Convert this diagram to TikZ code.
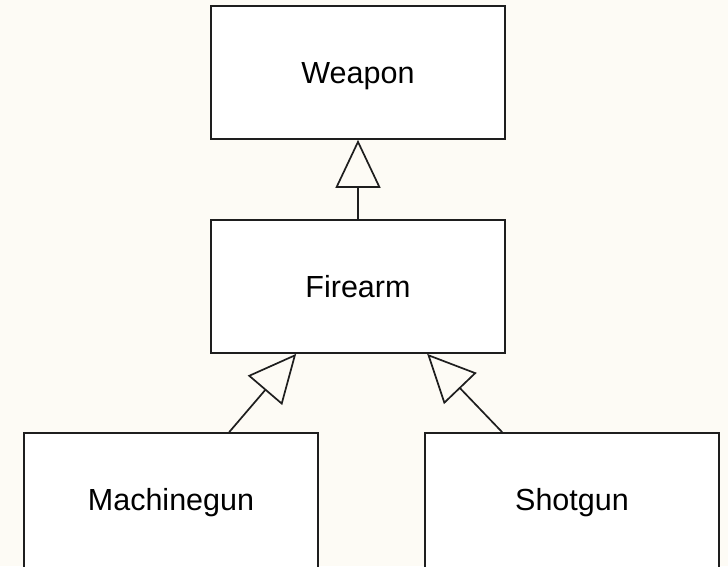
\documentclass[tikz,border=0pt]{standalone}
\usepackage{fontspec}
\setmainfont{Liberation Sans}
\usetikzlibrary{arrows.meta}
\definecolor{paper}{RGB}{253,251,245}
\definecolor{ink}{RGB}{30,30,30}
\tikzset{
  classbox/.style={draw=ink, line width=1.7pt, fill=white,
    minimum width=294pt, minimum height=133pt, inner sep=0pt,
    text height=22pt, text depth=0pt, font=\fontsize{30.5pt}{36pt}\selectfont},
  tallbox/.style={classbox, minimum height=140pt, text depth=7pt},
  inherits/.style={draw=ink, line width=1.7pt,
    -{Triangle[open, length=48pt, width=45pt, line width=1.7pt]}}
}
\begin{document}
\begin{tikzpicture}[x=1pt, y=-1pt]
  % page
  \fill[paper] (0,0) rectangle (728,566);
  \useasboundingbox (0,0) rectangle (728,566);

  % classes
  \node[classbox] (weapon) at (358,72.5) {Weapon};
  \node[classbox] (firearm) at (358,286.5) {Firearm};
  \node[tallbox] (mgun) at (171,503) {Machinegun};
  \node[tallbox] (sgun) at (572,503) {Shotgun};

  % generalisation arrows
  \draw[inherits] (firearm.north) -- (weapon.south);
  \draw[inherits] ([xshift=206pt]mgun.north west) -- ([xshift=86pt]firearm.south west);
  \draw[inherits] ([xshift=78pt]sgun.north west) -- ([xshift=217pt]firearm.south west);
\end{tikzpicture}
\end{document}
